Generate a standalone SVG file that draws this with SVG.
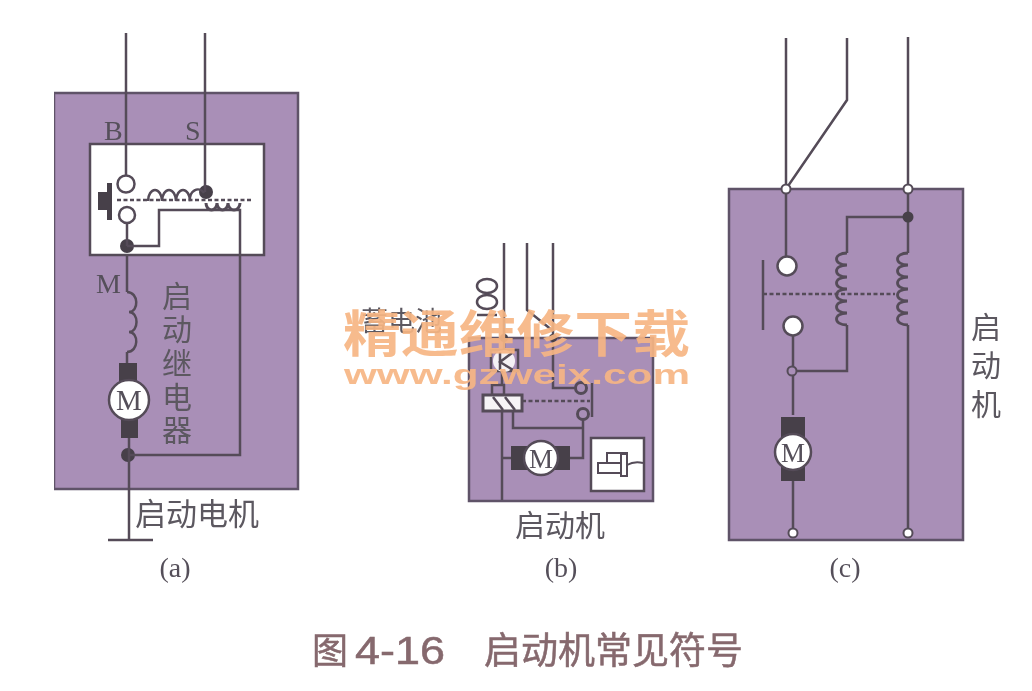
<svg xmlns="http://www.w3.org/2000/svg" width="1032" height="691" viewBox="0 0 1032 691">
<style>
.box{fill:#a98fb7;stroke:#5f5268;stroke-width:2.5}
.w{fill:#fff;stroke:#544c58;stroke-width:2.5}
.p{fill:#a98fb7;stroke:#544c58;stroke-width:3}
.l{fill:none;stroke:#544c58;stroke-width:2.5}
.d{fill:none;stroke:#544c58;stroke-width:2.5;stroke-dasharray:4 2.5}
.k{fill:#47404a;stroke:none}
.cjk{font-family:"Noto Sans CJK SC","Noto Sans",sans-serif;fill:#5c5860;font-size:30px}
.ser{font-family:"Liberation Serif",serif;fill:#55505a}
.wm{font-family:"Noto Sans CJK SC","Liberation Sans",sans-serif;font-weight:700;fill:#f6b583;fill-opacity:.92}
.cap{font-family:"Noto Sans CJK SC","Liberation Sans",sans-serif;fill:#86696e;stroke:#86696e;stroke-width:.5}
</style>
<defs><filter id="soft" x="0" y="0" width="100%" height="100%"><feGaussianBlur stdDeviation="0.5"/></filter></defs>
<rect width="1032" height="691" fill="#fff"/>
<g filter="url(#soft)">
<g id="starter-a">
<rect class="box" x="54" y="93" width="244" height="396"/>
<rect class="w" x="90" y="144" width="174" height="111"/>
<rect class="k" x="98" y="192" width="10" height="18"/>
<rect class="k" x="107" y="183" width="5" height="37"/>
<text class="ser" x="104" y="140" font-size="28">B</text>
<text class="ser" x="185" y="140" font-size="28">S</text>
<text class="ser" x="96" y="293" font-size="28">M</text>
<circle class="w" cx="126" cy="184" r="8.5"/>
<circle class="w" cx="127" cy="215" r="8"/>
<circle class="k" cx="127" cy="246" r="7"/>
<circle class="k" cx="206" cy="192" r="7"/>
<rect class="k" x="119" y="363" width="18" height="23"/>
<rect class="k" x="121" y="418" width="17" height="20"/>
<circle class="w" cx="129" cy="400" r="20"/>
<text class="ser" x="129" y="410" font-size="29" text-anchor="middle">M</text>
<circle class="k" cx="128" cy="455" r="7"/>
</g>
<g id="starter-b">
<rect class="box" x="469" y="338" width="184" height="163"/>
<rect class="l" x="491" y="350" width="27" height="21"/>
<circle cx="504" cy="361" r="11" fill="#f4f1f5"/>
<rect class="l" x="492" y="385" width="12" height="10"/>
<rect class="w" x="483" y="395" width="39" height="16" style="fill:#f6f4f6;stroke-width:3"/>
<circle class="p" cx="581" cy="388" r="5.5"/>
<circle class="p" cx="583" cy="414" r="5.5"/>
<rect class="k" x="511" y="446" width="59" height="24"/>
<circle class="w" cx="541" cy="458" r="17"/>
<text class="ser" x="541" y="468" font-size="27" text-anchor="middle">M</text>
<rect class="w" x="591" y="438" width="53" height="53"/>
<rect class="w" x="607" y="453" width="20" height="11" style="stroke-width:2"/>
<rect class="w" x="598" y="463" width="24" height="10" style="stroke-width:2"/>
<rect class="w" x="621" y="454" width="6" height="22" style="stroke-width:2"/>
<path class="l" d="M627 465Q634 461 643 463" style="stroke-width:2"/>
</g>
<g id="starter-c">
<rect class="box" x="729" y="189" width="234" height="351"/>
<circle class="w" cx="787" cy="266" r="9.5"/>
<circle class="w" cx="793" cy="326" r="9.5"/>
<rect class="k" x="781" y="417" width="24" height="22"/>
<rect class="k" x="781" y="465" width="24" height="16"/>
<circle class="w" cx="793" cy="452" r="18"/>
<text class="ser" x="793" y="462" font-size="27" text-anchor="middle">M</text>
</g>
<g id="connectors">
<path class="l" d="M126 33V175M127 223V246M127 246H159V210H240V455H128M205 33V192M127 255V292M127 352V363M129 438V540M108 540H153"/>
<path class="l" d="M148 201a7 11 0 0 1 14 0a7 11 0 0 1 14 0a7 11 0 0 1 14 0a8 10 0 0 1 14 -8"/>
<path class="l" d="M206 203a5.500 7 0 0 0 11 0a5.500 7 0 0 0 11 0a6 7 0 0 0 12 0" style="stroke-width:3"/>
<path class="d" d="M117 200H252"/>
<path class="l" d="M127 292c12 0 12 20 2 20c10 0 10 20 0 20c10 0 10 20 -2 20"/>
<path class="l" d="M504 243V350M527 243V310L553 331M553 243V388H575M592 383V417M502 371V385M502 411V500M502 458H511M513 411V428H583V458H570M583 420V428"/>
<path class="l" d="M500 352V370M512 353L500 362L513 370M493 397L503 410M505 397L515 410"/>
<path class="d" d="M522 401H590"/>
<ellipse class="l" cx="487" cy="286" rx="10" ry="7"/>
<ellipse class="l" cx="487" cy="302" rx="10" ry="7"/>
<path class="l" d="M477 315H497"/>
<circle class="k" cx="504" cy="338" r="4"/>
<circle class="k" cx="553" cy="338" r="4"/>
<path class="l" d="M786 38V189L847 100V38M908 37V253M786 189V257M908 217H847V253M793 336V415M793 481V533M792 371H847V325M908 325V533M763 260V330"/>
<path class="l" d="M847 253c-14 0 -14 12 0 12c-14 0 -14 12 0 12c-14 0 -14 12 0 12c-14 0 -14 12 0 12c-14 0 -14 12 0 12c-14 0 -14 12 0 12" style="stroke-width:2.800"/>
<path class="l" d="M908 253c-14 0 -14 12 0 12c-14 0 -14 12 0 12c-14 0 -14 12 0 12c-14 0 -14 12 0 12c-14 0 -14 12 0 12c-14 0 -14 12 0 12" style="stroke-width:2.800"/>
<path class="d" d="M763 294H895"/>
<circle class="w" cx="786" cy="189" r="4.500" style="stroke-width:2"/>
<circle class="w" cx="908" cy="189" r="4.500" style="stroke-width:2"/>
<circle class="k" cx="908" cy="217" r="5.500"/>
<circle class="p" cx="792" cy="371" r="4.500" style="stroke-width:2"/>
<circle class="w" cx="793" cy="533" r="4.500" style="stroke-width:2"/>
<circle class="w" cx="908" cy="533" r="4.500" style="stroke-width:2"/>
</g>
<g id="labels">
<text class="cjk" x="177" y="307" text-anchor="middle">启</text>
<text class="cjk" x="177" y="340" text-anchor="middle">动</text>
<text class="cjk" x="177" y="374" text-anchor="middle">继</text>
<text class="cjk" x="177" y="408" text-anchor="middle">电</text>
<text class="cjk" x="177" y="441" text-anchor="middle">器</text>
<text class="cjk" x="135" y="525" style="font-size:31px">启动电机</text>
<text class="cjk" x="361" y="331" style="font-size:27px">蓄电池</text>
<text class="cjk" x="515" y="536">启动机</text>
<text class="cjk" x="986" y="338" text-anchor="middle">启</text>
<text class="cjk" x="986" y="376" text-anchor="middle">动</text>
<text class="cjk" x="986" y="415" text-anchor="middle">机</text>
<text class="ser" x="175" y="577" font-size="28" text-anchor="middle">(a)</text>
<text class="ser" x="561" y="577" font-size="28" text-anchor="middle">(b)</text>
<text class="ser" x="845" y="577" font-size="28" text-anchor="middle">(c)</text>
<text class="cap" x="312" y="664" font-size="36">图</text>
<text class="cap" x="355" y="664" font-size="38" textLength="90" lengthAdjust="spacingAndGlyphs" style="font-family:'Liberation Sans',sans-serif">4-16</text>
<text class="cap" x="484" y="664" font-size="37">启动机常见符号</text>
</g>
<g id="watermark">
<text class="wm" x="343" y="352" font-size="50" textLength="347" lengthAdjust="spacingAndGlyphs">精通维修下载</text>
<text class="wm" x="344" y="384" font-size="27" textLength="346" lengthAdjust="spacingAndGlyphs" style="font-family:'Liberation Sans',sans-serif">www.gzweix.com</text>
</g>
</g>
</svg>
